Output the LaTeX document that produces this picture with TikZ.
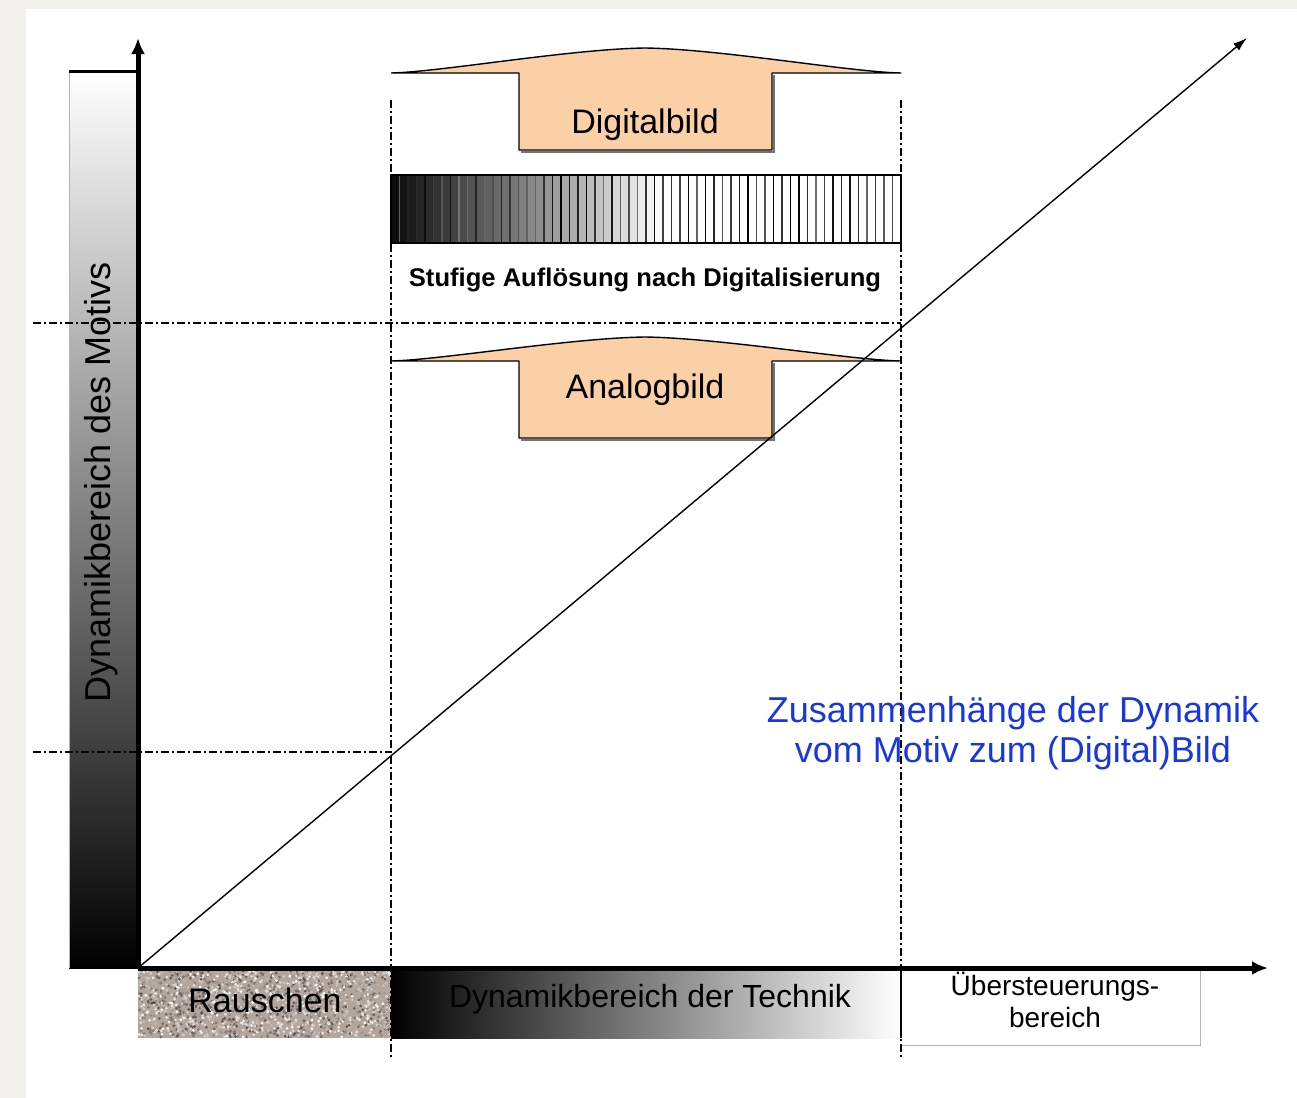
\documentclass[tikz,border=0pt]{standalone}
\usepackage{fontspec}
\setmainfont{Liberation Sans}
\usetikzlibrary{arrows.meta}
\definecolor{peach}{RGB}{251,208,166}
\definecolor{hintergrund}{RGB}{242,241,238}
\definecolor{titelblau}{RGB}{25,55,225}
\definecolor{rauschgrund}{RGB}{180,166,155}
\definecolor{rauschdunkel}{RGB}{90,78,70}
\tikzset{
  achse/.style={line width=2.5pt, -{Latex[length=8pt,width=7pt]}},
  hilfslinie/.style={line width=0.7pt, dash pattern=on 4pt off 1.5pt on 1pt off 1.5pt},
  pfeilform/.style={fill=peach, draw=black, line width=0.7pt, line join=round},
  gross/.style={inner sep=0pt, font=\fontsize{17}{20}\selectfont},
}
\begin{document}
\begin{tikzpicture}[x=0.5pt, y=-0.5pt]
\useasboundingbox (0,0) rectangle (1297,1098);
\fill[hintergrund] (0,0) rectangle (1297,1098);
\fill[white] (26,9) rectangle (1297,1098);

% Balken Motiv
\shade[top color=white, middle color=black!30, bottom color=black] (69,71) rectangle (138,968);
\draw[black!30, line width=0.5pt] (69,968) -- (69,71);
\draw[line width=1.5pt] (69,71) -- (138,71);
\node[gross, rotate=90, font=\fontsize{18}{20}\selectfont] (motiv) at (101,482) {Dynamikbereich des Motivs};

% Bereiche unten
\fill[rauschgrund] (138,968) rectangle (391,1038);
\pgfmathsetseed{7}
\foreach \k in {1,...,1800}{
  \pgfmathsetmacro\rx{139+rnd*251}
  \pgfmathsetmacro\ry{969+rnd*68}
  \pgfmathsetmacro\rt{rnd*100}
  \fill[rauschdunkel!\rt!white] (\rx,\ry) circle[radius=0.75pt];
}
\node[gross] (rauschen) at (265,1000) {Rauschen};
\shade[left color=black, middle color=black!35, right color=white] (391,968) rectangle (901,1038);
\node[gross, font=\fontsize{16}{20}\selectfont] (technik) at (650,999) {Dynamikbereich der Technik};
\draw[black!30, line width=0.5pt] (901,1045) -- (1200,1045) -- (1200,968);
\node[gross, align=center, font=\fontsize{14}{16}\selectfont] (ueber) at (1055,1000) {Übersteuerungs-\\bereich};
\draw[line width=1pt] (901,968) -- (901,1038);

% Hilfslinien
\coordinate (o) at (138,968);
\coordinate (hoben) at (33,323);
\coordinate (hunten) at (33,752);
\draw[hilfslinie] (391,100) -- (391,1060);
\draw[hilfslinie] (901,100) -- (901,1060);
\draw[hilfslinie] (hoben) -- (901,323);
\draw[hilfslinie] (hunten) -- (391,752);

% Stufen nach Digitalisierung
\foreach \i in {0,...,59}{
  \pgfmathsetmacro\grau{max(0,95-\i*3.0)}
  \pgfmathsetmacro\strich{55+rnd*45}
  \fill[black!\grau] ({391+\i*8.5},175) rectangle ({399.5+\i*8.5},243);
  \draw[black!\strich, line width=0.6pt] ({391+\i*8.5},175) -- ({391+\i*8.5},243);
}
\draw[line width=0.8pt] (391,175) -- (901,175) -- (901,243) -- (391,243) -- cycle;
\node[inner sep=0pt, font=\bfseries\fontsize{12.8}{14}\selectfont] (stufen) at (645,280) {Stufige Auflösung nach Digitalisierung};

% Pfeil Digitalbild
\draw[black!55, line width=1.2pt] (521,152) -- (774,152) -- (774,75);
\draw[pfeilform] (391,73) -- (519,73) -- (519,150) -- (772,150) -- (772,73) -- (901,73)
  .. controls (850,72) and (720,49) .. (645,48) .. controls (570,49) and (440,72) .. (391,73);
\node[gross] (digital) at (645,125) {Digitalbild};

% Pfeil Analogbild
\draw[black!55, line width=1.2pt] (521,440) -- (774,440) -- (774,363);
\draw[pfeilform] (391,361) -- (519,361) -- (519,438) -- (772,438) -- (772,361) -- (901,361)
  .. controls (850,360) and (720,338) .. (645,337) .. controls (570,338) and (440,360) .. (391,361);
\node[gross] (analog) at (645,390) {Analogbild};

% Achsen und Diagonale
\coordinate (ytip) at (138,38);
\coordinate (xtip) at (1268,968);
\coordinate (dtip) at (1247,38);
\draw[line width=0.7pt, -{Latex[length=7pt,width=4.5pt]}] (o) -- (dtip);
\draw[achse] (o) -- (ytip);
\draw[achse] (o) -- (xtip);

\node[align=center, text=titelblau, font=\fontsize{18}{20}\selectfont, inner sep=0pt] (titel) at (1013,733)
  {Zusammenhänge der Dynamik\\vom Motiv zum (Digital)Bild};
\end{tikzpicture}
\end{document}
